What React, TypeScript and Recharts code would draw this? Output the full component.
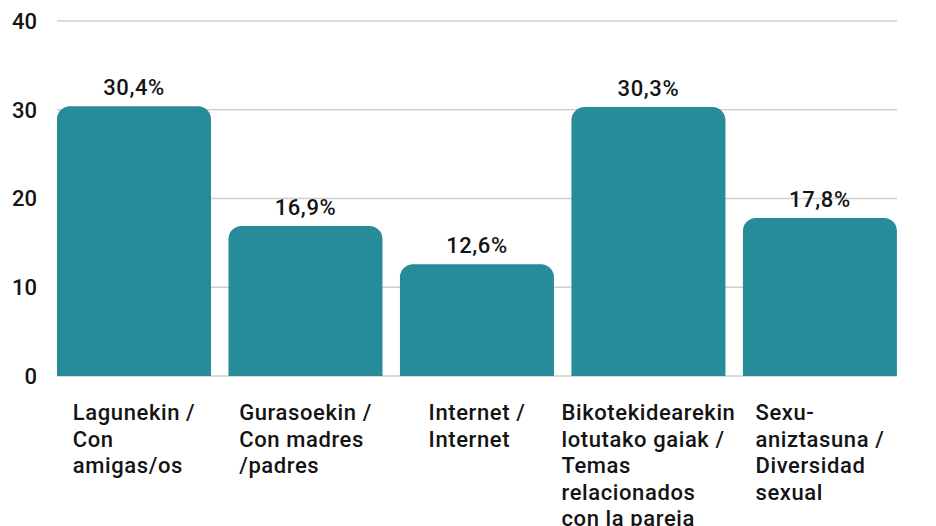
import React from "react";
import { BarChart, Bar, XAxis, YAxis, CartesianGrid, LabelList } from "recharts";

const categories = [
  "Lagunekin /\nCon\namigas/os",
  "Gurasoekin /\nCon madres\n/padres",
  "Internet /\nInternet",
  "Bikotekidearekin\nlotutako gaiak /\nTemas\nrelacionados\ncon la pareja",
  "Sexu-\naniztasuna /\nDiversidad\nsexual",
];
const values = [30.4, 16.9, 12.6, 30.3, 17.8];
const valueLabels = ["30,4%", "16,9%", "12,6%", "30,3%", "17,8%"];
const yTicks = [0, 10, 20, 30, 40];

const data = categories.map((c, i) => ({ name: c, value: values[i], label: valueLabels[i] }));

const FONT = "Roboto, 'DejaVu Sans', sans-serif";
const TICK_FS = 22;
const LS = 0.6;

let ctx: CanvasRenderingContext2D | null = null;
function measure(t: string): number {
  if (!ctx) {
    const c = document.createElement("canvas");
    ctx = c.getContext("2d");
  }
  if (!ctx) return t.length * TICK_FS * 0.56;
  ctx.font = `500 ${TICK_FS}px Roboto`;
  return ctx.measureText(t).width + t.length * LS;
}

const XTick = (props: any) => {
  const { x, y, payload } = props;
  const lines: string[] = String(payload.value).split("\n");
  const w = Math.max(...lines.map(measure));
  const sx = x - w / 2;
  return (
    <g>
      {lines.map((l, i) => (
        <text
          key={i}
          x={sx}
          y={y + 36 + i * 26.5}
          fill="#141414"
          fontSize={TICK_FS}
          fontWeight={500}
          letterSpacing={LS}
          fontFamily={FONT}
          textAnchor="start"
        >
          {l}
        </text>
      ))}
    </g>
  );
};

export default function App() {
  return (
    <div style={{ position: "absolute", left: 0, top: 0, background: "#fff" }}>
      <BarChart
        width={936}
        height={526}
        data={data}
        margin={{ top: 21, right: 39, left: 0, bottom: 0 }}
        barCategoryGap={8.7}
      >
        <CartesianGrid vertical={false} stroke="#cfcfcf" strokeWidth={1.5} />
        <YAxis
          width={57}
          domain={[0, 40]}
          ticks={yTicks}
          axisLine={false}
          tickLine={false}
          tickMargin={14}
          tick={{ fill: "#141414", fontSize: 22, fontWeight: 500, fontFamily: FONT }}
        />
        <XAxis
          dataKey="name"
          height={150}
          axisLine={false}
          tickLine={false}
          interval={0}
          padding={{ left: -8.7, right: -8.7 }}
          tick={<XTick />}
        />
        <Bar dataKey="value" fill="#268C9A" radius={[13, 13, 0, 0]} isAnimationActive={false}>
          <LabelList
            dataKey="label"
            position="top"
            offset={11}
            fill="#141414"
            fontSize={22}
            fontWeight={500}
            letterSpacing={0.6}
            fontFamily={FONT}
          />
        </Bar>
      </BarChart>
    </div>
  );
}
